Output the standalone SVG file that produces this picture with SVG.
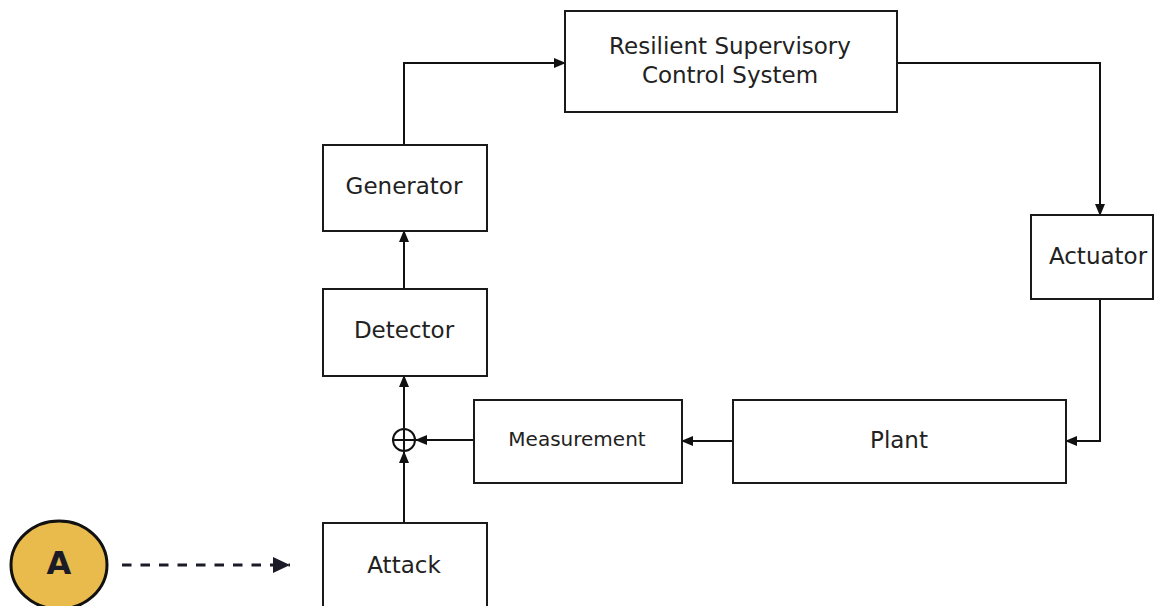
<svg xmlns="http://www.w3.org/2000/svg" width="1154" height="606" viewBox="0 0 1154 606">
  <style>
    .box { fill: #ffffff; stroke: #1a1a1a; stroke-width: 2; }
    .lbl { font-family: "DejaVu Sans", Verdana, sans-serif; font-size: 23px; fill: #222222; text-anchor: middle; }
    .small { font-size: 20px; }
    .wire { fill: none; stroke: #111111; stroke-width: 2; }
  </style>
  <defs>
    <marker id="arrow" markerWidth="12" markerHeight="10" refX="11" refY="5" orient="auto" markerUnits="userSpaceOnUse">
      <path d="M0,0 L12,5 L0,10 Z" fill="#111111"/>
    </marker>
    <marker id="arrowDark" markerWidth="17" markerHeight="16" refX="17" refY="8" orient="auto" markerUnits="userSpaceOnUse">
      <path d="M0,0 L17,8 L0,16 Z" fill="#1b1b28"/>
    </marker>
  </defs>

  <rect width="1154" height="606" fill="#ffffff"/>

  <!-- connectors -->
  <g id="connectors">
    <path class="wire" d="M404,145 V63 H565" marker-end="url(#arrow)"/>
    <path class="wire" d="M897,63 H1100 V215" marker-end="url(#arrow)"/>
    <path class="wire" d="M1100,299 V441 H1066" marker-end="url(#arrow)"/>
    <path class="wire" d="M733,441 H682" marker-end="url(#arrow)"/>
    <path class="wire" d="M474,440 H416" marker-end="url(#arrow)"/>
    <path class="wire" d="M404,523 V452" marker-end="url(#arrow)"/>
    <path class="wire" d="M404,428 V376" marker-end="url(#arrow)"/>
    <path class="wire" d="M404,289 V231" marker-end="url(#arrow)"/>
    <path d="M122,565 H290" fill="none" stroke="#1b1b28" stroke-width="3" stroke-dasharray="9.5 9" marker-end="url(#arrowDark)"/>
  </g>

  <g id="supervisor">
    <rect class="box" x="565" y="11" width="332" height="101"/>
    <text class="lbl" x="730" y="54">Resilient Supervisory</text>
    <text class="lbl" x="730" y="83">Control System</text>
  </g>

  <g id="generator">
    <rect class="box" x="323" y="145" width="164" height="86"/>
    <text class="lbl" x="404" y="194">Generator</text>
  </g>

  <g id="detector">
    <rect class="box" x="323" y="289" width="164" height="87"/>
    <text class="lbl" x="404" y="338">Detector</text>
  </g>

  <g id="actuator">
    <rect class="box" x="1031" y="215" width="122" height="84"/>
    <text class="lbl" x="1098" y="264">Actuator</text>
  </g>

  <g id="plant">
    <rect class="box" x="733" y="400" width="333" height="83"/>
    <text class="lbl" x="899" y="448">Plant</text>
  </g>

  <g id="measurement">
    <rect class="box" x="474" y="400" width="208" height="83"/>
    <text class="lbl small" x="577" y="446">Measurement</text>
  </g>

  <g id="summer">
    <circle cx="404" cy="440" r="11" fill="#ffffff" stroke="#111111" stroke-width="2"/>
    <path d="M393,440 H415 M404,429 V451" stroke="#111111" stroke-width="2"/>
  </g>

  <g id="attack">
    <rect class="box" x="323" y="523" width="164" height="90"/>
    <text class="lbl" x="404" y="573">Attack</text>
  </g>

  <g id="marker-a">
    <ellipse cx="59" cy="565" rx="48" ry="44" fill="#e8bb4c" stroke="#111111" stroke-width="3"/>
    <text x="59" y="574" font-family="'DejaVu Sans', sans-serif" font-weight="bold" font-size="32" fill="#1b1b28" text-anchor="middle">A</text>
  </g>
</svg>
